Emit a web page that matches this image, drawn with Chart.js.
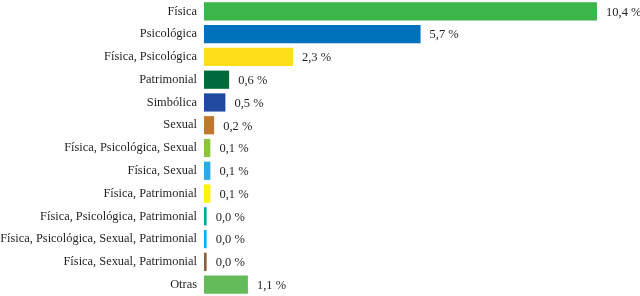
<!DOCTYPE html>
<html>
<head>
<meta charset="utf-8">
<script src="https://cdn.jsdelivr.net/npm/chart.js@4/dist/chart.umd.min.js"></script>
<style>
html,body{margin:0;padding:0;background:#fff;}
#wrap{width:640px;height:296px;position:relative;}
</style>
</head>
<body>
<div id="wrap"><canvas id="c" width="640" height="296"></canvas></div>
<script>
const categories = [
  "Física",
  "Psicológica",
  "Física, Psicológica",
  "Patrimonial",
  "Simbólica",
  "Sexual",
  "Física, Psicológica, Sexual",
  "Física, Sexual",
  "Física, Patrimonial",
  "Física, Psicológica, Patrimonial",
  "Física, Psicológica, Sexual, Patrimonial",
  "Física, Sexual, Patrimonial",
  "Otras"
];
const values = [10.4, 5.7, 2.3, 0.6, 0.5, 0.2, 0.1, 0.1, 0.1, 0.0, 0.0, 0.0, 1.1];
const barColors = [
  "#3cb54a", "#0071bc", "#fede17", "#006b3a", "#1f4aa0", "#c0782e",
  "#8cc63f", "#2ea9e1", "#fff200", "#00a99d", "#00b5ef", "#8b5e3c", "#64bb5a"
];

const FONT = "'Liberation Serif', 'DejaVu Serif', serif";
const BASE = -0.07;

const valueLabels = {
  id: 'valueLabels',
  afterDatasetsDraw(chart) {
    const ctx = chart.ctx;
    const meta = chart.getDatasetMeta(0);
    ctx.save();
    ctx.font = "12.5px " + FONT;
    ctx.fillStyle = "#231f20";
    ctx.textBaseline = "middle";
    ctx.textAlign = "left";
    meta.data.forEach((bar, i) => {
      const txt = values[i].toFixed(1).replace('.', ',') + " %";
      ctx.fillText(txt, bar.x + 9, bar.y + 1);
    });
    ctx.restore();
  }
};

new Chart(document.getElementById('c'), {
  type: 'bar',
  data: {
    labels: categories,
    datasets: [{
      data: values,
      base: BASE,
      backgroundColor: barColors,
      borderWidth: 0,
      categoryPercentage: 0.8,
      barPercentage: 1.0
    }]
  },
  options: {
    indexAxis: 'y',
    responsive: false,
    animation: false,
    layout: { padding: { top: 0, right: 43, bottom: 0, left: 0 } },
    plugins: { legend: { display: false }, tooltip: { enabled: false } },
    scales: {
      x: {
        display: false,
        min: BASE,
        max: 10.4
      },
      y: {
        grid: { display: false, drawTicks: false },
        border: { display: false },
        ticks: {
          color: "#231f20",
          font: { family: FONT, size: 12.4 },
          padding: 7
        },
        afterFit(axis) {
          axis.width = 204;
          axis.paddingTop = 0;
          axis.paddingBottom = 0;
        }
      }
    }
  },
  plugins: [valueLabels]
});
</script>
</body>
</html>
